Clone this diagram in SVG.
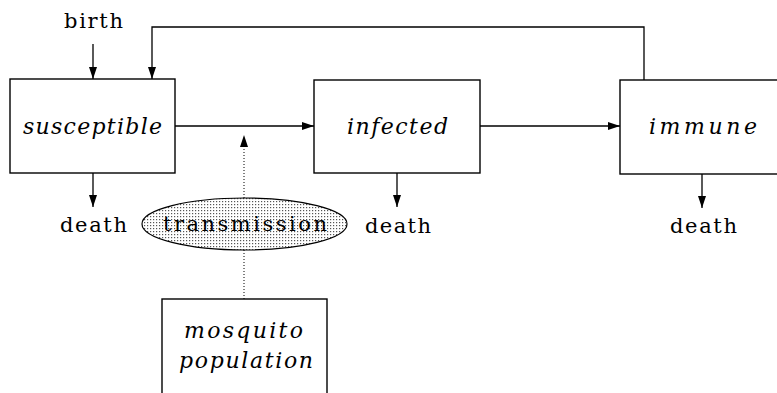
<svg xmlns="http://www.w3.org/2000/svg" width="777" height="393" viewBox="0 0 777 393">
<style>
.box{fill:#fff;stroke:#000;stroke-width:1.4}
.ln{fill:none;stroke:#000;stroke-width:1.3}
.dot{fill:none;stroke:#000;stroke-width:1;stroke-dasharray:1 2}
.it{font-family:"DejaVu Serif","Liberation Serif",serif;font-style:italic;font-size:22px;text-anchor:middle;fill:#000}
.rm{font-family:"DejaVu Serif","Liberation Serif",serif;font-size:21px;text-anchor:middle;fill:#000}
</style>
<defs>
<marker id="ah" markerWidth="12" markerHeight="8" refX="12" refY="4" orient="auto" markerUnits="userSpaceOnUse">
<path d="M0,0 L12,4 L0,8 Z" fill="#000"/>
</marker>
<pattern id="stip" width="3" height="3" patternUnits="userSpaceOnUse">
<rect width="3" height="3" fill="#fff"/>
<rect x="0" y="0" width="1.2" height="1.2" fill="#555"/>
</pattern>
</defs>
<g id="connectors">
<line class="ln" x1="93" y1="44" x2="93" y2="79" marker-end="url(#ah)"/>
<polyline class="ln" points="644,80 644,27 152,27 152,79" marker-end="url(#ah)"/>
<line class="ln" x1="175" y1="126" x2="314" y2="126" marker-end="url(#ah)"/>
<line class="ln" x1="480" y1="126" x2="620" y2="126" marker-end="url(#ah)"/>
<line class="ln" x1="93" y1="173" x2="93" y2="207" marker-end="url(#ah)"/>
<line class="ln" x1="397" y1="173" x2="397" y2="207" marker-end="url(#ah)"/>
<line class="ln" x1="702" y1="174" x2="702" y2="208" marker-end="url(#ah)"/>
<line class="dot" x1="244" y1="299" x2="244" y2="250"/>
<line class="dot" x1="244" y1="198" x2="244" y2="146"/>
<path d="M244,135 L248,147 L240,147 Z" fill="#000"/>
</g>
<g id="birth"><text class="rm" x="93.5" y="28" textLength="59" lengthAdjust="spacing">birth</text></g>
<g id="susceptible">
<rect class="box" x="10" y="79" width="165" height="94"/>
<text class="it" x="92.5" y="134" textLength="139" lengthAdjust="spacing">susceptible</text>
</g>
<g id="infected">
<rect class="box" x="314" y="80" width="166" height="93"/>
<text class="it" x="397.5" y="134" textLength="101" lengthAdjust="spacing">infected</text>
</g>
<g id="immune">
<rect class="box" x="620" y="80" width="166" height="94"/>
<text class="it" x="703" y="134" textLength="108" lengthAdjust="spacing">immune</text>
</g>
<g id="death1"><text class="rm" x="93.5" y="232" textLength="67" lengthAdjust="spacing">death</text></g>
<g id="death2"><text class="rm" x="398" y="233" textLength="66" lengthAdjust="spacing">death</text></g>
<g id="death3"><text class="rm" x="703.5" y="233" textLength="67" lengthAdjust="spacing">death</text></g>
<g id="transmission">
<ellipse cx="244.5" cy="224" rx="102.5" ry="26" fill="url(#stip)" stroke="#000" stroke-width="1.2"/>
<text class="rm" x="245" y="231" textLength="164" lengthAdjust="spacing">transmission</text>
</g>
<g id="mosquito">
<rect class="box" x="162" y="299" width="165" height="110"/>
<text class="it" x="243.5" y="338" textLength="119" lengthAdjust="spacing">mosquito</text>
<text class="it" x="246" y="368" textLength="134" lengthAdjust="spacing">population</text>
</g>
</svg>
